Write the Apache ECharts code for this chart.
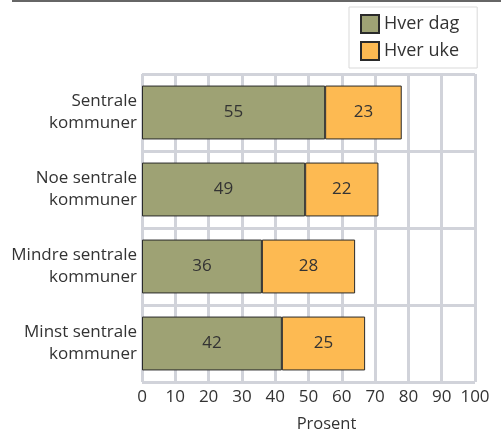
<!DOCTYPE html>
<html><head><meta charset="utf-8">
<script src="https://cdn.jsdelivr.net/npm/echarts@6/dist/echarts.min.js"></script>
<style>html,body{margin:0;padding:0;background:#fff;overflow:hidden}#c{width:501px;height:432px}</style>
</head><body><div id="c"></div>
<script>
const categories = ["Sentrale\nkommuner", "Noe sentrale\nkommuner", "Mindre sentrale\nkommuner", "Minst sentrale\nkommuner"];
const hverDag = [55, 49, 36, 42];
const hverUke = [23, 22, 28, 25];
const xTicks = [0, 10, 20, 30, 40, 50, 60, 70, 80, 90, 100];

const font = "'Open Sans', 'Noto Sans', sans-serif";
const chart = echarts.init(document.getElementById('c'), null, {renderer: 'canvas', width: 501, height: 432});
const lbl = {show: true, position: 'inside', color: '#333', fontSize: 17, fontFamily: font};
chart.setOption({
  animation: false,
  textStyle: {fontFamily: font},
  graphic: [{type: 'line', shape: {x1: 12, y1: 1, x2: 501, y2: 1}, style: {stroke: '#666', lineWidth: 2}}],
  legend: {
    orient: 'vertical', left: 349, top: 7,
    data: ['Hver dag', 'Hver uke'],
    itemWidth: 18, itemHeight: 18, itemGap: 7,
    borderColor: '#d9d9d9', borderWidth: 1, padding: [7, 18, 7, 11],
    textStyle: {fontSize: 18, color: '#333', fontFamily: font},
    icon: 'rect'
  },
  grid: {left: 142, right: 26, top: 74, bottom: 50, containLabel: false, outerBoundsMode: 'none'},
  xAxis: {
    type: 'value', min: 0, max: 100, interval: 10,
    name: 'Prosent', nameLocation: 'middle', nameGap: 34,
    nameTextStyle: {fontSize: 16.5, color: '#333', fontFamily: font, padding: [0, 0, 0, 36]},
    axisLine: {show: false}, axisTick: {show: false},
    axisLabel: {fontSize: 17, color: '#333', margin: 7, fontFamily: font,
      formatter: v => xTicks.includes(v) ? String(v) : ''},
    splitLine: {show: true, lineStyle: {color: '#d1d3da', width: 3}}
  },
  yAxis: {
    type: 'category', data: categories, inverse: true,
    axisLine: {show: false}, axisTick: {show: false},
    axisLabel: {fontSize: 17, color: '#333', margin: 5, lineHeight: 22, align: 'right', fontFamily: font},
    splitLine: {show: true, lineStyle: {color: '#d1d3da', width: 3}}
  },
  series: [
    {name: 'Hver dag', type: 'bar', stack: 'a', data: hverDag, barWidth: '70%',
     itemStyle: {color: '#9ea274', borderColor: '#2a2a2a', borderWidth: 1}, label: lbl},
    {name: 'Hver uke', type: 'bar', stack: 'a', data: hverUke, barWidth: '70%',
     itemStyle: {color: '#fdba52', borderColor: '#2a2a2a', borderWidth: 1}, label: lbl}
  ]
});
</script></body></html>
